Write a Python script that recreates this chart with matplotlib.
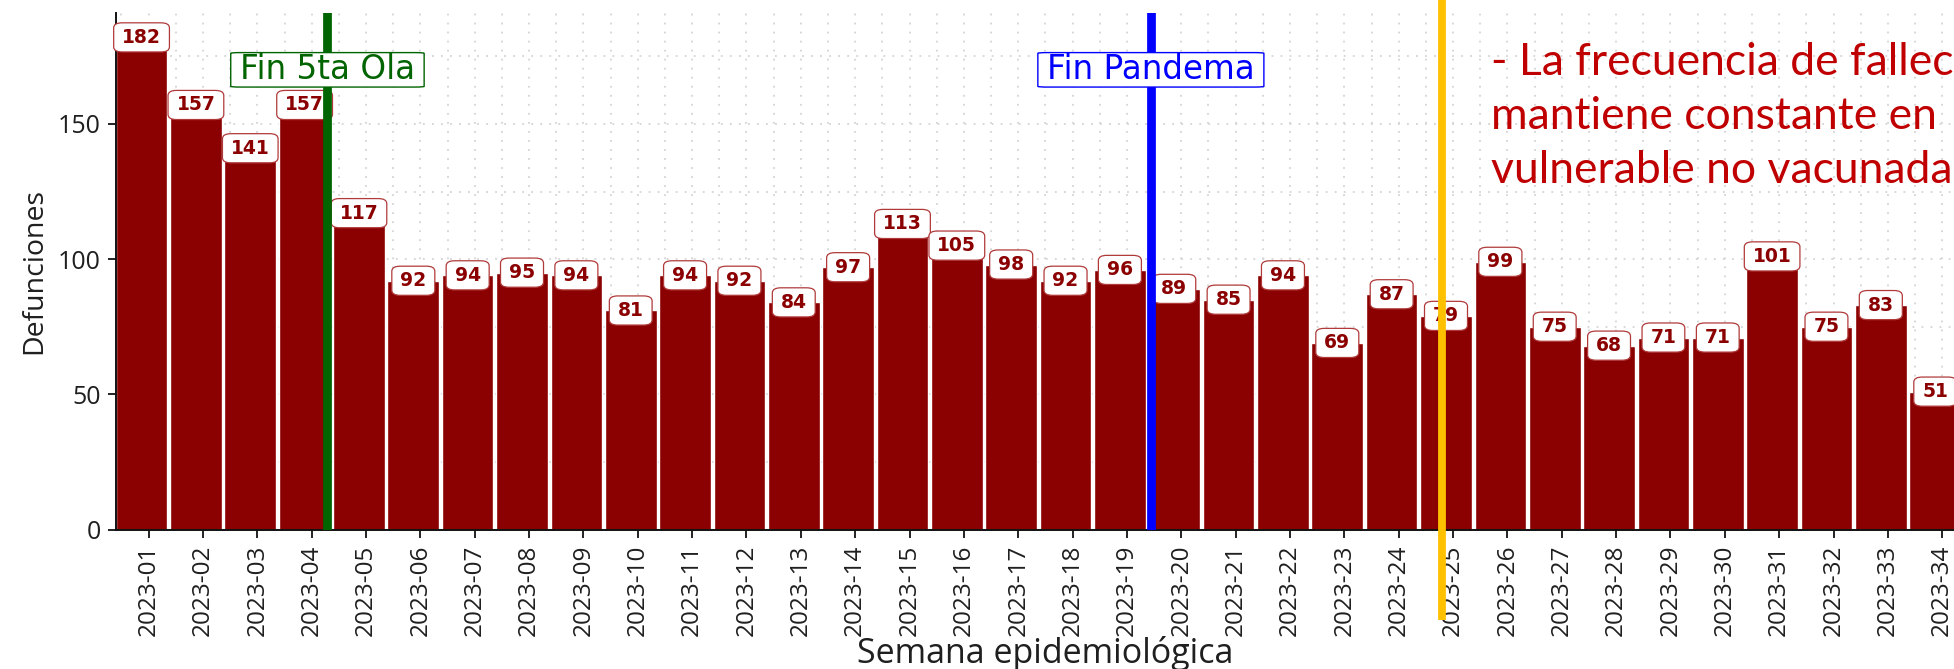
import numpy as np
import matplotlib
matplotlib.use("Agg")
import matplotlib.pyplot as plt
import matplotlib.transforms as mtransforms

# weekly deaths, 2023
semanas = ["2023-01", "2023-02", "2023-03", "2023-04", "2023-05", "2023-06",
           "2023-07", "2023-08", "2023-09", "2023-10", "2023-11", "2023-12",
           "2023-13", "2023-14", "2023-15", "2023-16", "2023-17", "2023-18",
           "2023-19", "2023-20", "2023-21", "2023-22", "2023-23", "2023-24",
           "2023-25", "2023-26", "2023-27", "2023-28", "2023-29", "2023-30",
           "2023-31", "2023-32", "2023-33", "2023-34"]
defunciones = [182, 157, 141, 157, 117, 92, 94, 95, 94, 81, 94, 92, 84, 97,
               113, 105, 98, 92, 96, 89, 85, 94, 69, 87, 79, 99, 75, 68, 71,
               71, 101, 75, 83, 51]

# event markers (week position on the axis)
fin_ola = 3.29
fin_pandemia = 18.44
marca_amarilla = 23.8

# note pasted over the chart, only the part that shows in the original
nota = ["- La frecuencia de fallec",
        "mantiene constante en",
        "vulnerable no vacunada"]

ROJO = "#8B0000"
TXT = "#1f1f1f"

fig = plt.figure(figsize=(19.54, 6.69), dpi=100)
ax = fig.add_axes([0.05937, 0.2085, 0.9513, 0.772])

x = np.arange(len(semanas))
desp = -0.13  # bars sit a bit left of the ticks in the original
ax.bar(x + desp, defunciones, width=0.95, color=ROJO, edgecolor="white",
       linewidth=1.0, zorder=2)

for xi, v in zip(x, defunciones):
    ax.text(xi + desp, v, str(v), ha="center", va="center",
            fontsize=13.5, fontweight="bold", color=ROJO,
            family="DejaVu Sans", zorder=3,
            bbox=dict(boxstyle="round,pad=0.45", fc="white", ec="#b03a3a",
                      lw=0.9, mutation_aspect=0.6))

ax.axvline(fin_ola, color="#006400", lw=6.3, zorder=4)
ax.axvline(fin_pandemia, color="#0000FF", lw=6.3, zorder=4)

for xpos, txt, col in [(fin_ola, "Fin 5ta Ola", "#006400"),
                       (fin_pandemia, "Fin Pandema", "#0000FF")]:
    ax.text(xpos, 170, txt, ha="center", va="center", fontsize=23.5,
            color=col, family="DejaVu Sans", zorder=5,
            bbox=dict(boxstyle="round,pad=0.28", fc="white", ec=col,
                      lw=1.0, mutation_aspect=0.08))

trans = mtransforms.blended_transform_factory(ax.transData, ax.transAxes)
ax.plot([marca_amarilla, marca_amarilla], [-0.175, 1.05], transform=trans,
        color="#FFC000", lw=5.6, clip_on=False, zorder=10,
        solid_capstyle="butt")

ax.set_xlim(-0.6, 33.6)
ax.set_ylim(0, 191)
ax.set_xticks(x)
ax.set_xticklabels(semanas, rotation=90, family="Open Sans", fontsize=17.5,
                   color=TXT)
ax.set_xticks(np.arange(-0.5, 34, 1), minor=True)
ax.set_yticks([0, 50, 100, 150])
ax.set_yticklabels(["0", "50", "100", "150"], family="Open Sans",
                   fontsize=18, color=TXT)
ax.set_yticks([25, 75, 125, 175], minor=True)
ax.tick_params(axis="both", which="major", length=6, width=1.4, pad=5,
               color="#222222")
ax.tick_params(axis="both", which="minor", length=0)

ax.grid(True, which="both", color="#d4d4d4", linestyle=(0, (1, 4)),
        linewidth=1.3, zorder=0)
ax.set_axisbelow(True)

for s in ["top", "right"]:
    ax.spines[s].set_visible(False)
for s in ["left", "bottom"]:
    ax.spines[s].set_linewidth(1.4)
    ax.spines[s].set_color("#111111")

ax.set_ylabel("Defunciones", family="Open Sans", fontsize=20.5, color=TXT,
              labelpad=7)
ax.set_xlabel("Semana epidemiológica", family="Open Sans", fontsize=24.5,
              color=TXT, labelpad=0)

for i, linea in enumerate(nota):
    fig.text(1491 / 1954, 1 - (75 + 54 * i) / 669, linea, family="Lato",
             fontsize=32, color="#C00000", ha="left", va="baseline")

fig.savefig("out.png", dpi=100)
